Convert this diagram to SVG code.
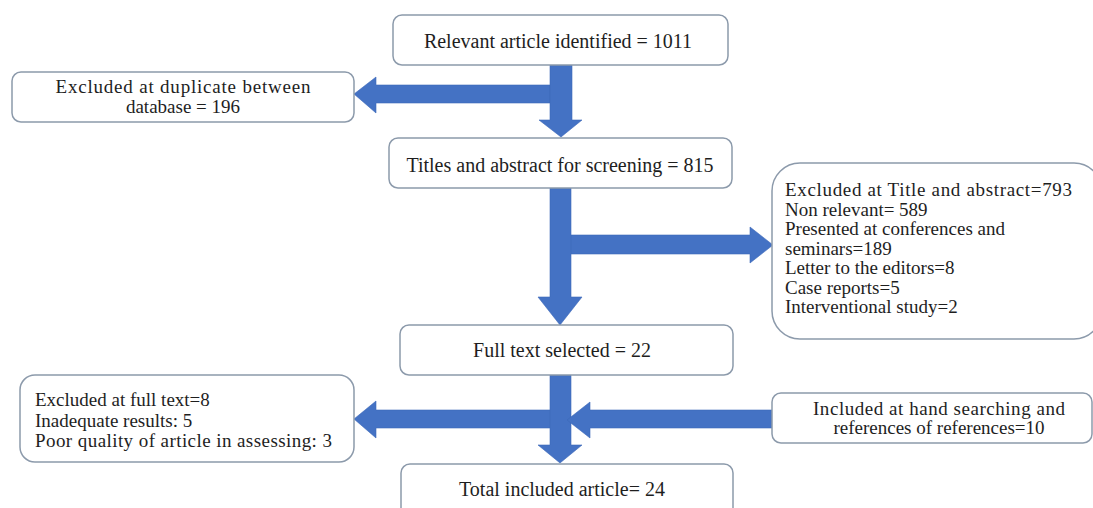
<svg xmlns="http://www.w3.org/2000/svg" width="1093" height="508" viewBox="0 0 1093 508">
<style>
.box{fill:#ffffff;stroke:#8c9aab;stroke-width:1.5}
.t{font-family:"Liberation Serif","Times New Roman",serif;font-size:20px;fill:#1e1e1e}
.m{font-size:19px}
.c{text-anchor:middle}
.arr{fill:#4472C4;stroke:#3d68b8;stroke-width:0.6}
</style>
<rect width="1093" height="508" fill="#ffffff"/>
<g id="connectors">
<polygon class="arr" points="550,85 550,103 376,103 376,113 354,94 376,77 376,85"/>
<polygon class="arr" points="550,65 572,65 572,120 582,120 561,137 539,120 550,120"/>
<polygon class="arr" points="560,235 750,235 750,227 773,245 750,263 750,254 560,254"/>
<polygon class="arr" points="550,188 571,188 571,297 582,297 560,325 538,297 550,297"/>
<polygon class="arr" points="560,410 560,428 376,428 376,438 354,419 376,401 376,410"/>
<polygon class="arr" points="550,375 571,375 571,445 582,445 560,463 538,445 550,445"/>
<polygon class="arr" points="773,410 773,428 590,428 590,438 567,420 590,402 590,410"/>
</g>
<g id="n1"><rect class="box" x="393" y="15" width="335" height="50" rx="9"/><text class="t c" x="558" y="48">Relevant article identified = 1011</text></g>
<g id="n2"><rect class="box" x="12" y="72" width="342" height="50" rx="9"/><text class="t m c" x="183" y="93" textLength="255" lengthAdjust="spacing">Excluded at duplicate between</text><text class="t m c" x="183" y="113">database = 196</text></g>
<g id="n3"><rect class="box" x="389" y="138" width="343" height="50" rx="9"/><text class="t c" x="560" y="172">Titles and abstract for screening = 815</text></g>
<g id="n4"><rect class="box" x="772" y="163" width="330" height="176" rx="28"/>
<text class="t m" x="785" y="196" textLength="287" lengthAdjust="spacing">Excluded at Title and abstract=793</text>
<text class="t m" x="785" y="215.5">Non relevant= 589</text>
<text class="t m" x="785" y="235">Presented at conferences and</text>
<text class="t m" x="785" y="254.5">seminars=189</text>
<text class="t m" x="785" y="274">Letter to the editors=8</text>
<text class="t m" x="785" y="293.5">Case reports=5</text>
<text class="t m" x="785" y="313">Interventional study=2</text></g>
<g id="n5"><rect class="box" x="400" y="325" width="333" height="50" rx="9"/><text class="t c" x="562" y="357">Full text selected = 22</text></g>
<g id="n6"><rect class="box" x="20" y="375" width="334" height="87" rx="15"/>
<text class="t m" x="35" y="406">Excluded at full text=8</text>
<text class="t m" x="35" y="427">Inadequate results: 5</text>
<text class="t m" x="35" y="447" textLength="297" lengthAdjust="spacing">Poor quality of article in assessing: 3</text></g>
<g id="n7"><rect class="box" x="772" y="393" width="320" height="50" rx="9"/><text class="t m c" x="939" y="415" textLength="252" lengthAdjust="spacing">Included at hand searching and</text><text class="t m c" x="939" y="434">references of references=10</text></g>
<g id="n8"><rect class="box" x="401" y="464" width="332" height="60" rx="9"/><text class="t c" x="562" y="496">Total included article= 24</text></g>
</svg>
